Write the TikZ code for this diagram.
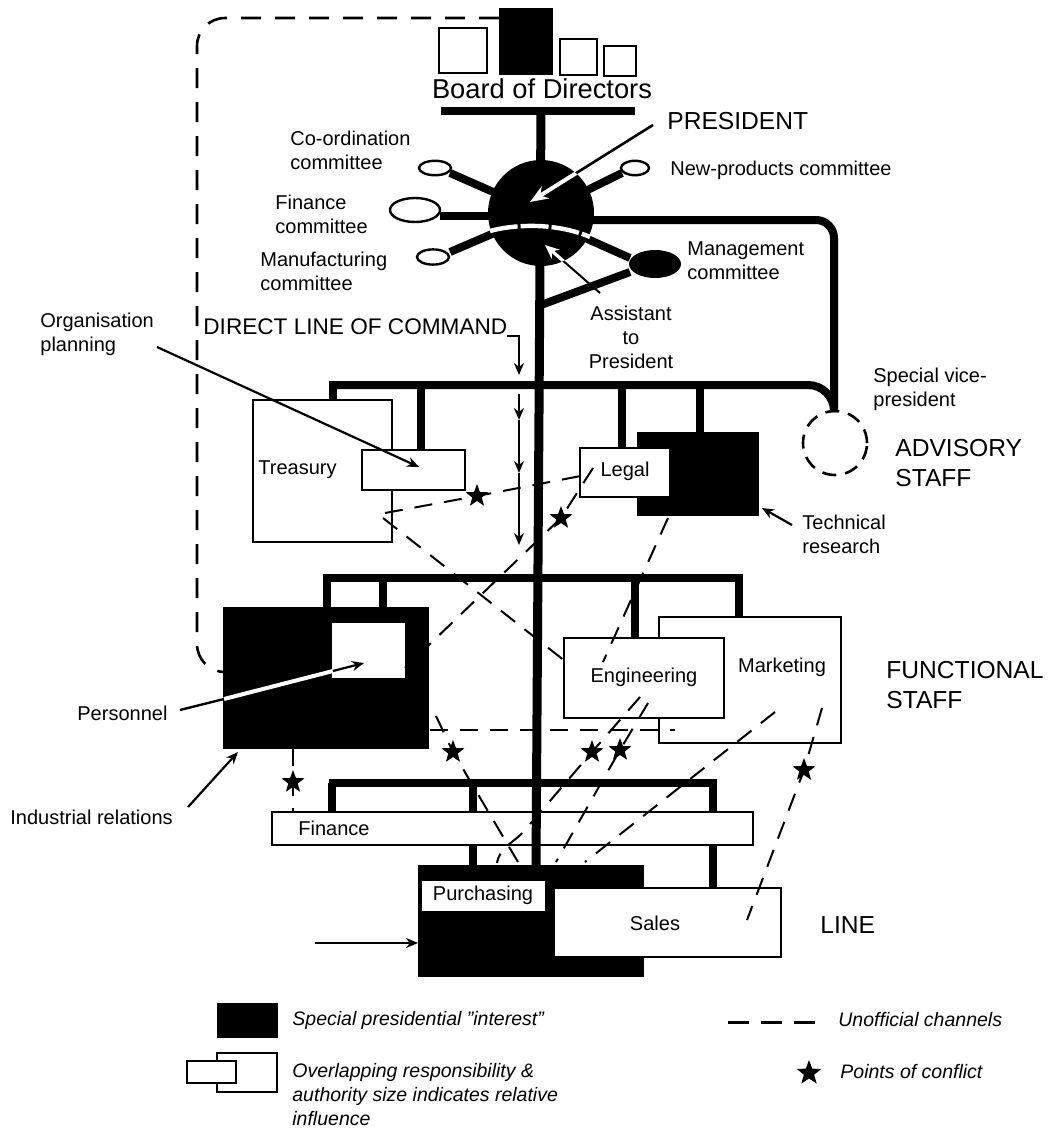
\documentclass[tikz,border=0pt]{standalone}
\usepackage{fontspec}
\setmainfont{Liberation Sans}
\usetikzlibrary{shapes.geometric,arrows.meta}

\begin{document}
\begin{tikzpicture}[x=0.5pt, y=-0.5pt,
        bar/.style={line width=4pt},
        unit/.style={draw=black, line width=1pt, fill=white},
        interest/.style={draw=black, fill=black},
        committee/.style={draw=black, line width=1.2pt, fill=white},
        unofficial/.style={line width=1pt, dash pattern=on 9pt off 6pt},
        conflict/.style={star, star points=5, star point ratio=2.4, fill=black, inner sep=0pt, minimum size=12pt},
        pointer/.style={line width=1.1pt, -{Stealth[length=6pt, width=5pt]}},
        small/.style={font=\fontsize{10}{12}\selectfont, inner sep=0pt, align=left},
        big/.style={font=\fontsize{12.3}{15}\selectfont, inner sep=0pt, align=left},
        key/.style={font=\fontsize{9.75}{12}\selectfont\itshape, inner sep=0pt, align=left}]
                \useasboundingbox (0,0) rectangle (1051,1130);

                \draw[line width=1.3pt, dash pattern=on 10pt off 7pt, rounded corners=14pt] (499,18) -- (197,18) -- (197,672) -- (225,672);

                \draw[unit, line width=1.4pt] (439,28) rectangle (487,73);
                \filldraw[interest, line width=1.4pt] (500,9) rectangle (552,74);
                \draw[unit, line width=1.4pt] (560,39) rectangle (597,75);
                \draw[unit, line width=1.4pt] (604,46) rectangle (636,76);
                \node[font=\fontsize{13.65}{16}\selectfont, inner sep=0pt] (board) at (542,89) {Board of Directors};
                \draw[bar] (441,111) -- (635,111);

                \draw[bar, rounded corners=9pt] (541,220) -- (834,220) -- (834,412);
                \draw[bar, rounded corners=13pt] (329,385) -| (834,412);
                \draw[bar] (333,385) -- (333,400);
                \draw[bar] (421,385) -- (421,450);
                \draw[bar] (622,385) -- (622,448);
                \draw[bar] (700,385) -- (700,432);

                \draw[bar] (327,607) -- (327,578) -- (739,578) -- (739,617);
                \draw[bar] (383,578) -- (383,607);
                \draw[bar] (635,578) -- (635,638);

                \draw[bar] (329,783) -- (717,783);
                \draw[bar] (332,783) -- (332,812);
                \draw[bar] (473,783) -- (473,865);
                \draw[bar] (713,783) -- (713,888);

                \draw[bar] (450,173) -- (541,213);
                \draw[bar] (622,173) -- (541,213);
                \draw[bar] (440,216) -- (541,216);
                \draw[bar] (450,252) -- (541,213);
                \draw[bar] (583,237) -- (630,258);
                \draw[bar] (541,305) -- (630,272);
                \fill (655,264) ellipse [x radius=13pt, y radius=7pt];

                \draw[unit] (253,400) rectangle (392,542);
                \draw[unit] (362,450) rectangle (465,490);
                \filldraw[interest] (637,432) rectangle (758,515);
                \draw[unit] (580,448) rectangle (670,497);
                \draw[line width=1.3pt, dash pattern=on 7pt off 4.5pt] (835,443) circle [radius=16pt];

                \filldraw[interest] (223,607) rectangle (428,748);
                \fill[white] (332,623) rectangle (405,678);
                \draw[unit] (659,617) rectangle (841,743);
                \draw[unit] (564,638) rectangle (724,718);

                \draw[unit] (272,812) rectangle (753,845);
                \filldraw[interest] (418,865) rectangle (643,976);
                \draw[unit] (421,880) rectangle (546,912);
                \draw[unit] (554,888) rectangle (781,957);

                \draw[line width=4.5pt] (541,111) -- (536,865);

                \fill (541,213) circle [radius=26.5pt];
                \draw[white, line width=2.2pt, dash pattern=on 14pt off 1.5pt] (490,231) .. controls (520,223) and (560,224) .. (590,237);
                \draw[committee] (435,168) ellipse [x radius=8pt, y radius=3.6pt];
                \draw[committee] (635,168) ellipse [x radius=7pt, y radius=3.6pt];
                \draw[committee] (415,210) ellipse [x radius=12.5pt, y radius=6pt];
                \draw[committee] (433,257) ellipse [x radius=8pt, y radius=3.8pt];

                \node[small, anchor=west] (coord) at (290,150) {Co-ordination\\committee};
                \node[small, anchor=west] (fincom) at (275,214) {Finance\\committee};
                \node[small, anchor=west] (manufcom) at (260,271) {Manufacturing\\committee};
                \node[small, anchor=west] (newprod) at (670,170) {New-products committee};
                \node[small, anchor=west] (mgmt) at (687,261) {Management\\committee};
                \node[big, anchor=west] (president) at (667,121) {PRESIDENT};
                \node[small, align=center] (assistant) at (631,337) {Assistant\\to\\President};

                \coordinate (presfoot) at (653,125);
                \coordinate (prestip) at (530,202);
                \draw[line width=1.3pt, -{Stealth[length=9pt, width=7pt]}] (presfoot) -- (prestip);
                \begin{scope}
                    \clip (541,213) circle [radius=26.5pt];
                    \draw[white, line width=2pt, -{Stealth[length=9pt, width=7pt]}] (presfoot) -- (prestip);
                \end{scope}
                \coordinate (assfoot) at (600,293);
                \coordinate (asstip) at (545,245);
                \draw[line width=1pt, -{Stealth[length=7pt, width=6pt]}] (assfoot) -- (asstip);
                \begin{scope}
                    \clip (541,213) circle [radius=26.5pt];
                    \draw[white, line width=1.6pt, -{Stealth[length=7pt, width=6pt]}] (assfoot) -- (asstip);
                \end{scope}

                \node[font=\fontsize{11.3}{14}\selectfont, inner sep=0pt, anchor=west] (direct) at (203,327) {DIRECT LINE OF COMMAND};
                \draw[line width=1pt, -{Stealth[length=6pt, width=5pt]}] (507,336) -- (519,336) -- (519,375);
                \draw[line width=1pt, -{Stealth[length=6pt, width=5pt]}] (519,394) -- (519,420);
                \draw[line width=1pt, -{Stealth[length=6pt, width=5pt]}] (519,420) -- (519,473);
                \draw[line width=1pt, -{Stealth[length=6pt, width=5pt]}] (519,473) -- (519,545);

                \node[small, anchor=west] (orgplan) at (40,334) {Organisation\\planning};
                \coordinate (orgfoot) at (157,347);
                \coordinate (orgtip) at (419,467);
                \draw[pointer] (orgfoot) -- (orgtip);
                \node[small, anchor=west] (treasury) at (258,470) {Treasury};
                \node[small] (legal) at (625,471) {Legal};
                \node[small, anchor=west] (techres) at (802,534) {Technical\\research};
                \coordinate (techfoot) at (792,525);
                \coordinate (techtip) at (762,508);
                \draw[pointer] (techfoot) -- (techtip);
                \node[small, anchor=west] (specvp) at (873,389) {Special vice-\\president};
                \node[big, anchor=west] (advisory) at (895,463) {ADVISORY\\STAFF};

                \node[small, anchor=west] (personnel) at (77,713) {Personnel};
                \coordinate (perfoot) at (180,710);
                \coordinate (peredge) at (224,699);
                \coordinate (perinner) at (333,671);
                \coordinate (pertip) at (364,663);
                \draw[line width=1.2pt] (perfoot) -- (peredge);
                \draw[white, line width=2pt] (peredge) -- (perinner);
                \draw[pointer] (perinner) -- (pertip);
                \node[small] (engineering) at (644,677) {Engineering};
                \node[small] (marketing) at (782,667) {Marketing};
                \node[big, anchor=west] (functional) at (886,685) {FUNCTIONAL\\STAFF};
                \node[small, anchor=west] (indrel) at (10,817) {Industrial relations};
                \coordinate (indfoot) at (188,807);
                \coordinate (indtip) at (238,752);
                \draw[pointer] (indfoot) -- (indtip);

                \node[small, anchor=west] (finance) at (298,828) {Finance};
                \node[small] (purchasing) at (483,895) {Purchasing};
                \node[small] (sales) at (655,923) {Sales};
                \node[big, anchor=west] (line) at (820,925) {LINE};
                \coordinate (linefoot) at (315,943);
                \coordinate (linetip) at (418,943);
                \draw[pointer] (linefoot) -- (linetip);

                \node[conflict] (s1) at (477,496) {};
                \node[conflict] (s2) at (561,518) {};
                \node[conflict] (s3) at (453,752) {};
                \node[conflict] (s4) at (592,752) {};
                \node[conflict] (s5) at (620,750) {};
                \node[conflict] (s6) at (804,770) {};
                \node[conflict] (s7) at (293,782) {};

                \draw[unofficial] (385,513) -- (s1.center) -- (591,474);
                \draw[unofficial] (383,518) -- (570,665);
                \draw[unofficial] (593,468) -- (s2.center) -- (405,668);
                \draw[unofficial] (668,518) -- (603,662);
                \draw[unofficial] (430,730) -- (675,730);
                \draw[unofficial] (293,748) -- (s7.center) -- (293,812);
                \draw[unofficial] (436,716) -- (s3.center) -- (518,862);
                \draw[unofficial] (640,697) -- (s4.center) -- (525,830) to[out=-130, in=80] (497,863);
                \draw[unofficial] (648,703) -- (s5.center) -- (556,862);
                \draw[unofficial] (775,712) -- (585,862);
                \draw[unofficial] (822,708) -- (s6.center) -- (747,920);

                \filldraw[interest] (217,1003) rectangle (277,1037);
                \node[key, anchor=west] (keyinterest) at (292,1020) {Special presidential \symbol{34}interest\symbol{34}};
                \draw[unit] (217,1053) rectangle (277,1092);
                \draw[unit] (187,1061) rectangle (236,1083);
                \node[key, anchor=west] (keyoverlap) at (292,1095) {Overlapping responsibility \&\\authority size indicates relative\\influence};
                \draw[line width=1.5pt, dash pattern=on 10.5pt off 6pt] (728,1022) -- (815,1022);
                \node[key, anchor=west] (keychannel) at (838,1020) {Unofficial channels};
                \node[conflict, minimum size=13pt] (keystar) at (809,1073) {};
                \node[key, anchor=west] (keyconflict) at (840,1072) {Points of conflict};
            \end{tikzpicture}
\end{document}
